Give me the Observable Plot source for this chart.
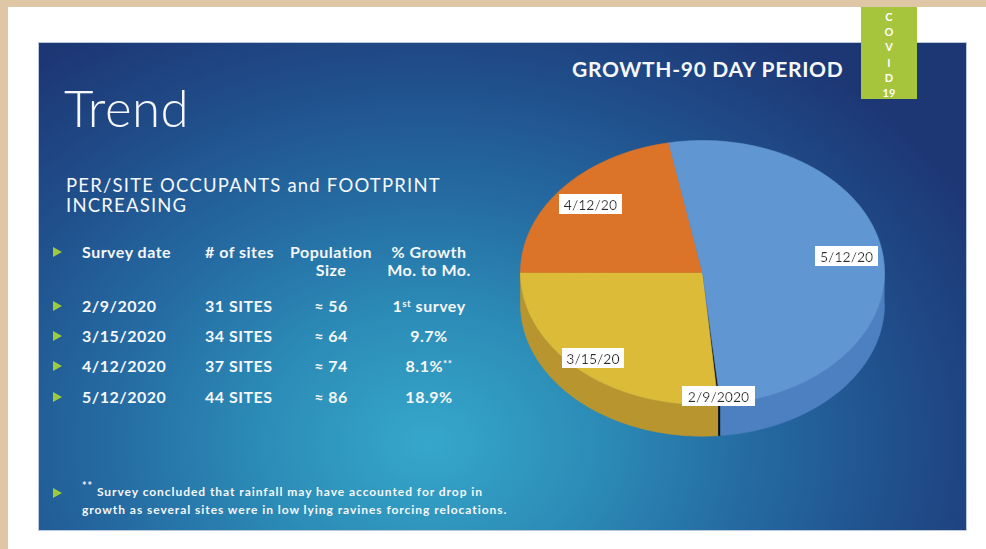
<!DOCTYPE html>
<html><head><meta charset="utf-8">
<script src="https://cdn.jsdelivr.net/npm/d3@7"></script>
<script src="https://cdn.jsdelivr.net/npm/@observablehq/plot@0.6"></script>
<style>
html,body{margin:0;padding:0;}
body{width:986px;height:549px;background:#dfc7a6;position:relative;overflow:hidden;font-family:Lato,"Noto Sans",sans-serif;color:#f5f7fa;}
.abs{position:absolute;white-space:nowrap;}
#paper{left:8px;top:7px;width:978px;height:542px;background:#fff;}
#slide{left:39px;top:43px;width:927px;height:487px;
 background:
  radial-gradient(ellipse 68% 100% at 42% 82%, #36a7ca 0%, #2c8db7 26%, #256ca3 50%, #20508c 74%, #1d3674 100%);
 box-shadow:0 0 0 1px #b9c8dc;}
#covid{left:861px;top:7px;width:56px;height:92px;background:#a6c43c;color:#fff;font-weight:700;font-size:11px;text-align:center;line-height:15.2px;padding-top:2px;box-sizing:border-box;}
#title{left:64px;top:77px;font-size:51px;font-weight:300;letter-spacing:0.5px;}
.sub{left:66px;font-size:18.5px;line-height:20px;height:20px;font-weight:400;letter-spacing:1.2px;}
#period{left:572px;top:56px;font-size:21px;font-weight:700;letter-spacing:0.7px;}
.cell{font-size:16px;font-weight:700;line-height:18px;letter-spacing:0.5px;}
.bul{width:0;height:0;border-top:5px solid transparent;border-bottom:5px solid transparent;border-left:9px solid #9ccc3c;}
#foot{left:82px;top:483px;font-size:12px;font-weight:700;line-height:18px;letter-spacing:0.95px;}
sup{font-size:0.62em;line-height:0;vertical-align:0.55em;}
#pie{left:500px;top:120px;}
</style></head>
<body>
<div id="paper" class="abs"></div>
<div id="slide" class="abs"></div>
<div id="covid" class="abs"></div>
<div id="title" class="abs">Trend</div>
<div class="abs sub" style="top:175px">PER/SITE OCCUPANTS and FOOTPRINT</div>
<div class="abs sub" style="top:195px">INCREASING</div>
<div id="period" class="abs">GROWTH-90 DAY PERIOD</div>
<div id="table"></div>
<div class="abs bul" style="left:53px;top:488px"></div>
<div id="foot" class="abs"><sup style="font-size:0.9em">**</sup> Survey concluded that rainfall may have accounted for drop in<br>growth as several sites were in low lying ravines forcing relocations.</div>
<div id="pie" class="abs"></div>
<script>
// ---- data ----
const covidLetters = ["C", "O", "V", "I", "D", "19"];
const headers = [["Survey date"], ["# of sites"], ["Population", "Size"], ["% Growth", "Mo. to Mo."]];
const surveyDates = ["2/9/2020", "3/15/2020", "4/12/2020", "5/12/2020"];
const sites = [31, 34, 37, 44];
const population = [56, 64, 74, 86];
const growth = [null, 9.7, 8.1, 18.9];
const growthNote = ["", "", "**", ""];
const pieLabels = ["2/9/2020", "3/15/20", "4/12/20", "5/12/20"];
const pieValues = [0.08, 9.7, 8.1, 18.9];
const pieColors = ["#151515", "#dcbb38", "#db7428", "#6096d2"];
const wallColors = ["#0d0d0d", "#b8952e", "#b85f20", "#4c80c0"];
const labelRadius = [0.95, 0.89, 0.80, 0.80];

// ---- covid badge ----
document.getElementById("covid").innerHTML = covidLetters.join("<br>");

// ---- table ----
const colLeft = [82, 205, null, null];
const colCenter = [null, null, 331, 429];
const tableEl = document.getElementById("table");
function cell(html, col, yc) {
  const d = document.createElement("div");
  d.className = "abs cell";
  d.innerHTML = html;
  d.style.top = (yc - 9) + "px";
  if (colLeft[col] != null) d.style.left = colLeft[col] + "px";
  else { d.style.left = (colCenter[col] - 100) + "px"; d.style.width = "200px"; d.style.textAlign = "center"; }
  tableEl.appendChild(d);
}
function bullet(yc) {
  const b = document.createElement("div");
  b.className = "abs bul";
  b.style.left = "53px"; b.style.top = (yc - 5) + "px";
  tableEl.appendChild(b);
}
const headY = 252, rowY = [306, 336, 366, 397];
bullet(headY);
headers.forEach((h, i) => h.forEach((t, j) => cell(t, i, headY + j * 18)));
surveyDates.forEach((dte, i) => {
  const y = rowY[i];
  bullet(y);
  cell(dte, 0, y);
  cell(sites[i] + " SITES", 1, y);
  cell("\u2248 " + population[i], 2, y);
  cell(growth[i] == null ? "1<sup>st</sup> survey" : growth[i].toFixed(1) + "%" + (growthNote[i] ? "<sup>" + growthNote[i] + "</sup>" : ""), 3, y);
});

// ---- pie (tilted, with side wall) ----
const startDeg = 174.3;
const total = d3.sum(pieValues);
let acc = startDeg;
const slices = pieLabels.map((label, i) => {
  const s = acc; acc += pieValues[i] / total * 360;
  return {label, s, e: acc, i};
});
const rad = (a) => a * Math.PI / 180;
const depth = 0.24;
const topPts = [], wallPts = [];
function arcPts(a0, a1) {
  const n = Math.max(2, Math.ceil((a1 - a0) / 1));
  return d3.range(n + 1).map(k => a0 + (a1 - a0) * k / n);
}
slices.forEach(sl => {
  topPts.push({k: sl.i, x: 0, y: 0});
  arcPts(sl.s, sl.e).forEach(a => topPts.push({k: sl.i, x: Math.sin(rad(a)), y: Math.cos(rad(a))}));
  topPts.push({k: sl.i, x: 0, y: 0});
  [[90, 270], [450, 630]].forEach(([v0, v1], w) => {
    const a0 = Math.max(sl.s, v0), a1 = Math.min(sl.e, v1);
    if (a1 <= a0) return;
    const pts = arcPts(a0, a1);
    const key = sl.i + "-" + w;
    pts.forEach(a => wallPts.push({k: key, i: sl.i, x: Math.sin(rad(a)), y: Math.cos(rad(a))}));
    pts.slice().reverse().forEach(a => wallPts.push({k: key, i: sl.i, x: Math.sin(rad(a)), y: Math.cos(rad(a)) - depth}));
  });
});
const wallKeys = [...new Set(wallPts.map(d => d.k))];
const marks = [];
wallKeys.forEach(k => {
  const pts = wallPts.filter(d => d.k === k);
  marks.push(Plot.line(pts, {x: "x", y: "y", fill: wallColors[pts[0].i], stroke: wallColors[pts[0].i], strokeWidth: 0.6}));
});
slices.forEach(sl => {
  marks.push(Plot.line(topPts.filter(d => d.k === sl.i), {x: "x", y: "y", fill: pieColors[sl.i], stroke: pieColors[sl.i], strokeWidth: 0.6}));
});
marks.push(Plot.text(slices, {
  x: d => labelRadius[d.i] * Math.sin(rad((d.s + d.e) / 2)),
  y: d => labelRadius[d.i] * Math.cos(rad((d.s + d.e) / 2)),
  text: "label", fill: "#2a2a2a", fontSize: 14, fontFamily: "Lato, sans-serif"
}));
const cx = 202, cy = 152, rx = 182, ry = 132;
const svg = Plot.plot({
  width: 400, height: 330, margin: 0,
  style: {background: "transparent", overflow: "visible"},
  x: {domain: [-1, 1], range: [cx - rx, cx + rx], axis: null},
  y: {domain: [-1, 1], range: [cy + ry, cy - ry], axis: null},
  marks
});
const defs = d3.select(svg).insert("defs", ":first-child");
const f = defs.append("filter").attr("id", "lblbox").attr("x", -0.08).attr("y", -0.06).attr("width", 1.16).attr("height", 1.12);
f.append("feFlood").attr("flood-color", "#ffffff");
f.append("feComposite").attr("in", "SourceGraphic");
d3.select(svg).selectAll('g[aria-label="text"] text').attr("filter", "url(#lblbox)");
document.getElementById("pie").appendChild(svg);
</script>
</body></html>
